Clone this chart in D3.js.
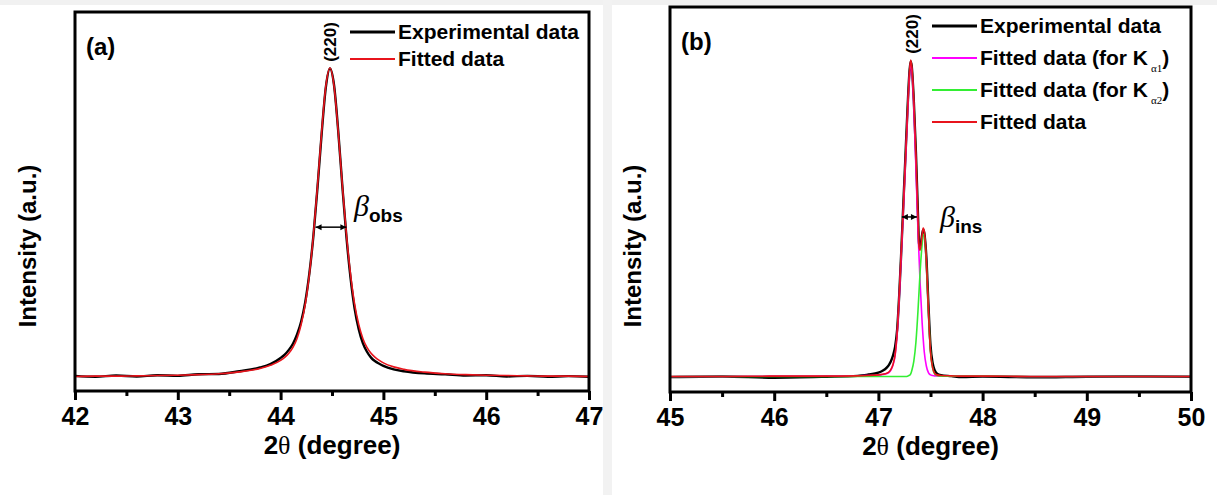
<!DOCTYPE html>
<html>
<head>
<meta charset="utf-8">
<script src="https://cdn.jsdelivr.net/npm/d3@7"></script>
<style>
  body { margin: 0; background: #fff; }
  svg { display: block; }
  text { font-family: "Liberation Sans", Arial, sans-serif; font-weight: bold; fill: #000; }
</style>
</head>
<body>
<svg id="chart" width="1217" height="495"></svg>
<script>
// ---- Panel (a): (220) reflection of the sample ----
const thetaA = [42.0, 42.2, 42.4, 42.6, 42.8, 43.0, 43.2, 43.4, 43.6, 43.8, 43.9,
  44.00, 44.04, 44.08, 44.12, 44.16, 44.20, 44.24, 44.28, 44.32, 44.36, 44.40, 44.44,
  44.48, 44.52, 44.56, 44.60, 44.64, 44.68, 44.72, 44.76, 44.80, 44.84, 44.88, 44.92,
  44.96, 45.00, 45.1, 45.2, 45.4, 45.6, 45.8, 46.0, 46.2, 46.4, 46.6, 46.8, 47.0];
const expA = [0.004, 0.001, 0.005, 0.002, 0.006, 0.004, 0.009, 0.010, 0.019, 0.031, 0.042,
  0.062, 0.073, 0.088, 0.108, 0.138, 0.180, 0.243, 0.336, 0.460, 0.618, 0.790, 0.937,
  0.998, 0.944, 0.798, 0.621, 0.455, 0.322, 0.222, 0.155, 0.110, 0.082, 0.063, 0.051,
  0.043, 0.036, 0.025, 0.019, 0.012, 0.009, 0.005, 0.006, 0.002, 0.004, 0.001, 0.003, 0.001];
const fitA = [0.002, 0.003, 0.003, 0.004, 0.005, 0.006, 0.008, 0.011, 0.017, 0.028, 0.038,
  0.054, 0.064, 0.077, 0.096, 0.125, 0.170, 0.236, 0.333, 0.462, 0.623, 0.796, 0.941,
  1.000, 0.941, 0.796, 0.623, 0.462, 0.333, 0.236, 0.170, 0.125, 0.096, 0.077, 0.064,
  0.054, 0.046, 0.033, 0.025, 0.016, 0.011, 0.008, 0.006, 0.005, 0.004, 0.003, 0.003, 0.002];
const ticksA = [42, 43, 44, 45, 46, 47];
const minorA = [42.5, 43.5, 44.5, 45.5, 46.5];

// ---- Panel (b): (220) reflection of the standard, split into Ka1 / Ka2 ----
const thetaB = [45.0, 45.5, 46.0, 46.5, 46.8, 46.9, 47.0, 47.04, 47.08, 47.10, 47.12, 47.14,
  47.16, 47.18, 47.20, 47.22, 47.24, 47.26, 47.28, 47.30, 47.31, 47.32, 47.34, 47.36, 47.38,
  47.39, 47.40, 47.42, 47.43, 47.44, 47.46, 47.48, 47.50, 47.52, 47.54, 47.56, 47.60, 47.70,
  47.80, 48.0, 48.5, 49.0, 49.5, 50.0];
const expB = [0.000, 0.002, -0.002, 0.001, 0.004, 0.008, 0.014, 0.020, 0.030, 0.038, 0.050, 0.068,
  0.095, 0.150, 0.260, 0.400, 0.550, 0.700, 0.850, 0.970, 0.995, 0.980, 0.870, 0.710, 0.510,
  0.420, 0.410, 0.450, 0.465, 0.455, 0.380, 0.230, 0.100, 0.045, 0.022, 0.012, 0.006, 0.003,
  0.000, 0.002, -0.001, 0.001, 0.002, 0.001];
const ka1B = [0.002, 0.002, 0.003, 0.003, 0.004, 0.005, 0.006, 0.008, 0.011, 0.014, 0.022, 0.038,
  0.068, 0.135, 0.250, 0.390, 0.530, 0.680, 0.830, 0.960, 0.990, 0.970, 0.850, 0.660, 0.460,
  0.380, 0.300, 0.170, 0.120, 0.080, 0.035, 0.014, 0.007, 0.005, 0.004, 0.004, 0.003, 0.003,
  0.003, 0.003, 0.002, 0.002, 0.002, 0.002];
const ka2B = [0.002, 0.002, 0.002, 0.002, 0.002, 0.002, 0.002, 0.002, 0.002, 0.002, 0.002, 0.002,
  0.002, 0.002, 0.002, 0.002, 0.002, 0.002, 0.003, 0.006, 0.010, 0.020, 0.050, 0.110, 0.210,
  0.270, 0.330, 0.420, 0.450, 0.450, 0.360, 0.210, 0.080, 0.030, 0.010, 0.005, 0.003, 0.003,
  0.003, 0.003, 0.002, 0.002, 0.002, 0.002];
const fitB = [0.002, 0.002, 0.003, 0.003, 0.004, 0.005, 0.007, 0.009, 0.012, 0.016, 0.024, 0.040,
  0.070, 0.140, 0.260, 0.400, 0.540, 0.690, 0.840, 0.970, 1.000, 0.980, 0.870, 0.700, 0.500,
  0.410, 0.400, 0.450, 0.470, 0.460, 0.370, 0.210, 0.080, 0.030, 0.012, 0.007, 0.005, 0.004,
  0.003, 0.003, 0.002, 0.002, 0.002, 0.002];
const ticksB = [45, 46, 47, 48, 49, 50];
const minorB = [45.5, 46.5, 47.5, 48.5, 49.5];

const svg = d3.select("#chart");

// faint grey page marks behind the figure
svg.append("rect").attr("x", 0).attr("y", 0).attr("width", 1217).attr("height", 5).attr("fill", "#f1f1f1");
svg.append("rect").attr("x", 603).attr("y", 0).attr("width", 9).attr("height", 495).attr("fill", "#f2f2f2");

function drawPanel(cfg) {
  const x = d3.scaleLinear().domain(cfg.xDomain).range([cfg.left, cfg.right]);
  const y = d3.scaleLinear().domain(cfg.yDomain).range([cfg.bottom, cfg.top]);
  const g = svg.append("g");

  g.append("rect")
    .attr("x", cfg.left).attr("y", cfg.top)
    .attr("width", cfg.right - cfg.left).attr("height", cfg.bottom - cfg.top)
    .attr("fill", "#fff");

  // curves
  cfg.series.forEach(s => {
    const pts = cfg.theta.map((t, i) => [t, s.values[i]]);
    g.append("path")
      .datum(pts)
      .attr("fill", "none")
      .attr("stroke", s.color)
      .attr("stroke-width", s.width)
      .attr("stroke-linejoin", "round")
      .attr("d", d3.line().x(d => x(d[0])).y(d => y(d[1])).curve(d3.curveMonotoneX));
  });

  // frame
  g.append("rect")
    .attr("x", cfg.left).attr("y", cfg.top)
    .attr("width", cfg.right - cfg.left).attr("height", cfg.bottom - cfg.top)
    .attr("fill", "none").attr("stroke", "#000").attr("stroke-width", 3);

  // bottom axis, major and minor ticks pointing outward
  const major = g.append("g").attr("transform", `translate(0,${cfg.bottom})`)
    .call(d3.axisBottom(x).tickValues(cfg.ticks).tickSize(9).tickPadding(7).tickFormat(d3.format("d")));
  major.select(".domain").remove();
  major.selectAll(".tick line").attr("stroke-width", 3);
  major.selectAll(".tick text").style("font-size", "25px").style("font-family", "'Liberation Sans', Arial, sans-serif").style("font-weight", "bold");

  const minor = g.append("g").attr("transform", `translate(0,${cfg.bottom})`)
    .call(d3.axisBottom(x).tickValues(cfg.minor).tickSize(5).tickFormat(""));
  minor.select(".domain").remove();
  minor.selectAll(".tick line").attr("stroke-width", 3);

  // axis titles
  const xt = g.append("text")
    .attr("x", (cfg.left + cfg.right) / 2).attr("y", cfg.bottom + 63)
    .attr("text-anchor", "middle").style("font-size", "26px");
  xt.append("tspan").text("2");
  xt.append("tspan").text("\u03b8").style("font-family", "'Liberation Serif', serif").style("font-weight", "normal");
  xt.append("tspan").text(" (degree)");

  g.append("text")
    .attr("transform", `translate(${cfg.ylabelX},${cfg.ylabelY}) rotate(-90)`)
    .attr("text-anchor", "middle").style("font-size", "24px")
    .text("Intensity (a.u.)");

  // panel tag
  g.append("text").attr("x", cfg.left + 11).attr("y", cfg.top + 43)
    .style("font-size", "24px").text(cfg.tag);

  // reflection label
  g.append("text")
    .attr("transform", `translate(${cfg.hklX},${cfg.hklY}) rotate(-90)`)
    .attr("text-anchor", "middle").style("font-size", "17px")
    .text("(220)");

  // legend
  cfg.legend.forEach((item, i) => {
    const ly = cfg.legY + i * cfg.legStep;
    g.append("line")
      .attr("x1", cfg.legX).attr("x2", cfg.legX + 45)
      .attr("y1", ly).attr("y2", ly)
      .attr("stroke", item.color).attr("stroke-width", item.width);
    const t = g.append("text").attr("x", cfg.legX + 48).attr("y", ly + 7).style("font-size", "21px");
    t.append("tspan").text(item.label);
    if (item.sub) {
      t.append("tspan").text("K");
      t.append("tspan").text(item.sub).attr("dx", 3).attr("dy", 7)
        .style("font-size", "11px").style("font-family", "'Liberation Serif', serif").style("font-weight", "normal");
      t.append("tspan").text(")").attr("dy", -7);
    }
  });

  // FWHM marker
  const ay = y(cfg.arrowLevel);
  const ax1 = x(cfg.arrowFrom), ax2 = x(cfg.arrowTo);
  g.append("line").attr("x1", ax1).attr("x2", ax2).attr("y1", ay).attr("y2", ay)
    .attr("stroke", "#000").attr("stroke-width", 1.5);
  [[ax1, 1], [ax2, -1]].forEach(([px, dir]) => {
    g.append("path")
      .attr("d", `M${px},${ay} L${px + dir * 6},${ay - 3} L${px + dir * 6},${ay + 3} Z`)
      .attr("fill", "#000");
  });
  const bt = g.append("text").attr("x", cfg.betaX).attr("y", cfg.betaY);
  bt.append("tspan").text("\u03b2")
    .style("font-family", "'Liberation Serif', serif").style("font-style", "italic")
    .style("font-weight", "normal").style("font-size", "30px");
  bt.append("tspan").text(cfg.betaSub).attr("dy", 6).style("font-size", "19px");
}

drawPanel({
  xDomain: [42, 47], yDomain: [-0.045, 1.181],
  left: 75, right: 589, top: 12, bottom: 391,
  theta: thetaA, ticks: ticksA, minor: minorA,
  series: [
    { values: expA, color: "#000", width: 2.4 },
    { values: fitA, color: "#e8141c", width: 1.6 }
  ],
  ylabelX: 36, ylabelY: 246, tag: "(a)",
  hklX: 336, hklY: 42,
  legX: 350, legY: 32, legStep: 27,
  legend: [
    { label: "Experimental data", color: "#000", width: 3 },
    { label: "Fitted data", color: "#e8141c", width: 2 }
  ],
  arrowLevel: 0.485, arrowFrom: 44.34, arrowTo: 44.64,
  betaX: 354, betaY: 216, betaSub: "obs"
});

drawPanel({
  xDomain: [45, 50], yDomain: [-0.047, 1.167],
  left: 670, right: 1191, top: 7, bottom: 392,
  theta: thetaB, ticks: ticksB, minor: minorB,
  series: [
    { values: expB, color: "#000", width: 2.4 },
    { values: ka1B, color: "#ff00ff", width: 1.6 },
    { values: ka2B, color: "#33ee33", width: 1.6 },
    { values: fitB, color: "#e8141c", width: 1.6 }
  ],
  ylabelX: 641, ylabelY: 246, tag: "(b)",
  hklX: 918, hklY: 34,
  legX: 932, legY: 26, legStep: 32,
  legend: [
    { label: "Experimental data", color: "#000", width: 3 },
    { label: "Fitted data (for ", color: "#ff00ff", width: 2, sub: "\u03b11" },
    { label: "Fitted data (for ", color: "#33ee33", width: 2, sub: "\u03b12" },
    { label: "Fitted data", color: "#e8141c", width: 2 }
  ],
  arrowLevel: 0.505, arrowFrom: 47.225, arrowTo: 47.37,
  betaX: 940, betaY: 227, betaSub: "ins"
});
</script>
</body>
</html>
